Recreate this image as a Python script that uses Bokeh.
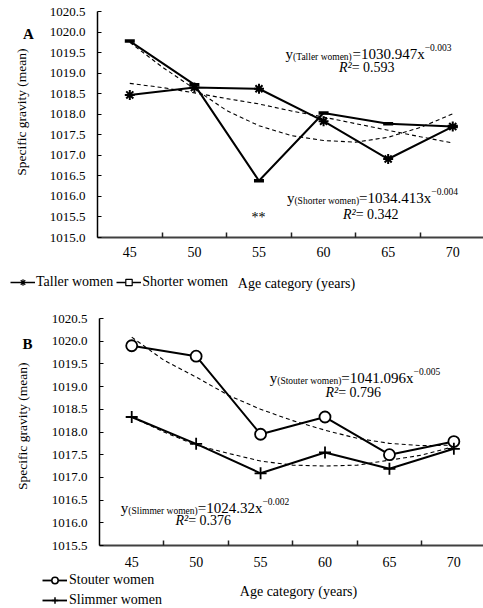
import math
from bokeh.plotting import figure
from bokeh.models import Range1d, FixedTicker, Label, Legend, LegendItem, NumeralTickFormatter
from bokeh.layouts import column, row
from bokeh.embed import file_html
from bokeh.resources import INLINE

# ---------------- data ----------------
ages = [45, 50, 55, 60, 65, 70]
boundaries = [47.5, 52.5, 57.5, 62.5, 67.5]

taller = [1018.47, 1018.65, 1018.62, 1017.83, 1016.91, 1017.70]
shorter = [1019.78, 1018.72, 1016.38, 1018.03, 1017.77, 1017.70]
stouter = [1019.90, 1019.67, 1017.95, 1018.33, 1017.50, 1017.79]
slimmer = [1018.33, 1017.74, 1017.09, 1017.55, 1017.19, 1017.63]

trend_ages = [45, 47.5, 50, 52.5, 55, 57.5, 60, 62.5, 65, 67.5, 70]
taller_trend = [1018.75, 1018.65, 1018.52, 1018.38, 1018.25, 1018.08, 1017.93, 1017.77, 1017.61, 1017.45, 1017.30]
shorter_trend = [1019.75, 1019.15, 1018.62, 1018.09, 1017.72, 1017.48, 1017.36, 1017.32, 1017.44, 1017.68, 1018.01]
stouter_trend = [1020.09, 1019.58, 1019.21, 1018.81, 1018.50, 1018.25, 1018.04, 1017.86, 1017.75, 1017.70, 1017.71]
slimmer_trend = [1018.33, 1018.00, 1017.71, 1017.53, 1017.36, 1017.27, 1017.25, 1017.27, 1017.38, 1017.49, 1017.68]

y_ticks_a = [1015.0, 1015.5, 1016.0, 1016.5, 1017.0, 1017.5, 1018.0, 1018.5, 1019.0, 1019.5, 1020.0, 1020.5]
y_ticks_b = [1015.5, 1016.0, 1016.5, 1017.0, 1017.5, 1018.0, 1018.5, 1019.0, 1019.5, 1020.0, 1020.5]

eq_taller = ("Taller women", "1030.947", "0.003", "0.593")
eq_shorter = ("Shorter women", "1034.413", "0.004", "0.342")
eq_stouter = ("Stouter women", "1041.096", "0.005", "0.796")
eq_slimmer = ("Slimmer women", "1024.32", "0.002", "0.376")

x_title = "Age category (years)"
y_title = "Specific gravity (mean)"

FONT = "'Liberation Serif', 'Times New Roman', 'DejaVu Serif', serif"

# Times metrics (per 1000 em) for laying out the multi-size equation runs
W = {' ': 250, '(': 333, ')': 333, '.': 250, '=': 564, '\u2212': 564, '\u00b2': 300,
     'a': 444, 'c': 444, 'e': 444, 'h': 500, 'i': 278, 'l': 278, 'm': 778, 'n': 500,
     'o': 500, 'r': 333, 't': 278, 'u': 500, 'w': 722, 'x': 500, 'y': 500, 'S': 556,
     'T': 611, 'R': 611, 's': 389, '*': 500}


def tw(s, size):
    return sum(W.get(c, 500) for c in s) / 1000.0 * size


def add_label(p, x, y, text, size, dx=0, dy=0, align="left", baseline="alphabetic",
              style="normal", angle=0.0):
    p.add_layout(Label(x=x, y=y, x_offset=dx, y_offset=dy, text=text, text_font=FONT,
                       text_font_size=f"{size}px", text_align=align, text_baseline=baseline,
                       text_color="black", text_font_style=style, angle=angle))


def strip(width, height):
    s = figure(width=width, height=height, x_range=Range1d(0, width), y_range=Range1d(0, height),
               output_backend="svg", toolbar_location=None, x_axis_type=None, y_axis_type=None,
               min_border=0, min_border_left=0, min_border_right=0, min_border_top=0,
               min_border_bottom=0)
    s.outline_line_color = None
    s.grid.visible = False
    return s


def make_fig(width, height, top, frame_h, left, xr, yr, yticks):
    p = figure(width=width, height=height, x_range=Range1d(*xr), y_range=Range1d(*yr),
               output_backend="svg", toolbar_location=None,
               min_border_left=left, min_border_right=0, min_border_top=top,
               min_border_bottom=height - top - frame_h)
    p.outline_line_color = None
    p.grid.visible = False
    xa = p.xaxis[0]
    xa.ticker = FixedTicker(ticks=ages, minor_ticks=boundaries)
    xa.major_tick_in = 0
    xa.major_tick_out = 0
    xa.minor_tick_in = 5
    xa.minor_tick_out = 0
    xa.minor_tick_line_color = "#222222"
    xa.minor_tick_line_width = 1.5
    xa.axis_line_color = "#404040"
    xa.axis_line_width = 2
    xa.major_label_text_font = FONT
    xa.major_label_text_font_size = "14px"
    xa.major_label_text_color = "black"
    ya = p.yaxis[0]
    ya.ticker = FixedTicker(ticks=yticks)
    ya.formatter = NumeralTickFormatter(format="0.0")
    ya.major_tick_in = 4
    ya.major_tick_out = 0
    ya.minor_tick_line_color = None
    ya.axis_line_color = "black"
    ya.axis_line_width = 1.5
    ya.major_label_standoff = 12
    ya.major_label_text_font = FONT
    ya.major_label_text_font_size = "13px"
    ya.major_label_text_color = "black"
    return p


def equation(p, x, y, eq, r2_drop):
    subject, coef, expo, r2 = eq
    runs = [("y", 15, 0), ("(" + subject + ")", 9.5, -3.5), ("=" + coef + "x", 15, 0),
            ("\u2212" + expo, 9.5, 6)]
    total = sum(tw(t, s) for t, s, _ in runs)
    off = -total / 2
    for t, s, d in runs:
        add_label(p, x, y, t, s, dx=off, dy=d)
        off += tw(t, s)
    r_runs = [("R\u00b2", 14, "italic"), (" = " + r2, 14, "normal")]
    total = sum(tw(t, s) for t, s, _ in r_runs)
    off = -total / 2
    for t, s, st in r_runs:
        add_label(p, x, y, t, s, dx=off, dy=-r2_drop, style=st)
        off += tw(t, s)


def style_legend(leg, standoff, spacing):
    leg.label_text_font = FONT
    leg.label_text_font_size = "14px"
    leg.label_text_color = "black"
    leg.glyph_width = 25
    leg.glyph_height = 16
    leg.label_height = 16
    leg.label_standoff = standoff
    leg.spacing = spacing
    leg.padding = 0
    leg.margin = 0
    leg.border_line_color = None
    leg.background_fill_alpha = 0


STRIP_W = 40

# ---------------- panel A ----------------
A_LEFT, A_TOP, A_H, A_HEIGHT = 97, 11, 226, 265
XA = (42.5, 72.38)
YA = (1015.0, 1020.5)
pa = make_fig(483 - STRIP_W, A_HEIGHT, A_TOP, A_H, A_LEFT - STRIP_W, XA, YA, y_ticks_a)
pa.xaxis[0].major_label_standoff = 9

sxa = (483 - A_LEFT) / (XA[1] - XA[0])
sya = A_H / (YA[1] - YA[0])


def pxA(px, py):
    return XA[0] + (px - A_LEFT) / sxa, YA[1] - (py - A_TOP) / sya


pa.line(trend_ages, taller_trend, line_color="black", line_width=1.1, line_dash="4 3")
pa.line(trend_ages, shorter_trend, line_color="black", line_width=1.1, line_dash="4 3")
pa.line(ages, taller, line_color="black", line_width=2)
pa.line(ages, shorter, line_color="black", line_width=2)
pa.scatter(ages, taller, marker="asterisk", size=10, line_color="black", line_width=2)
pa.scatter(ages, shorter, marker="dash", size=10, line_color="black", line_width=3.5)

x, y = pxA(368, 53)
equation(pa, x, y, eq_taller, 14)
x, y = pxA(372, 197)
equation(pa, x, y, eq_shorter, 17)
x, y = pxA(258, 217)
add_label(pa, x, y, "**", 14, align="center")

# left strip A: panel letter + y title
la = strip(STRIP_W, A_HEIGHT)
add_label(la, 28, A_HEIGHT - 26, "A", 15, align="center", baseline="middle", style="bold")
add_label(la, 21, A_HEIGHT - 118, y_title, 13.5, align="center", baseline="middle",
          angle=math.pi / 2)

# bottom strip A: legend + x title
BA_H = 31
ba = strip(483, BA_H)
lt = ba.line(ages, taller, line_color="black", line_width=1.5)
st = ba.scatter(ages, taller, marker="asterisk", size=10, line_color="black", line_width=1.2)
ls = ba.line(ages, shorter, line_color="black", line_width=1.5)
ss = ba.scatter(ages, shorter, marker="square", size=[7], fill_color="white",
                line_color="black", line_width=1.2)
leg_a = Legend(items=[LegendItem(label="Taller women", renderers=[lt, st]),
                      LegendItem(label="Shorter women", renderers=[ls, ss])],
               orientation="horizontal", location=(10, 6))
style_legend(leg_a, 1, 3)
ba.add_layout(leg_a)
add_label(ba, 296, BA_H - (283 - A_HEIGHT), x_title, 14, align="center", baseline="middle")

# ---------------- panel B ----------------
B_PAGE = A_HEIGHT + BA_H
B_LEFT, B_TOP, B_H, B_HEIGHT = 99, 22, 227, 276
XB = (42.5, 72.3)
YB = (1015.5, 1020.5)
pb = make_fig(483 - STRIP_W, B_HEIGHT, B_TOP, B_H, B_LEFT - STRIP_W, XB, YB, y_ticks_b)
pb.xaxis[0].major_label_standoff = 11

sxb = (483 - B_LEFT) / (XB[1] - XB[0])
syb = B_H / (YB[1] - YB[0])


def pxB(px, py):
    return XB[0] + (px - B_LEFT) / sxb, YB[1] - (py - B_PAGE - B_TOP) / syb


pb.line(trend_ages, stouter_trend, line_color="black", line_width=1.1, line_dash="4 3")
pb.line(trend_ages, slimmer_trend, line_color="black", line_width=1.1, line_dash="4 3")
pb.line(ages, stouter, line_color="black", line_width=2)
pb.line(ages, slimmer, line_color="black", line_width=2)
pb.scatter(ages, stouter, marker="circle", size=11, fill_color="white", line_color="black", line_width=1.8)
pb.scatter(ages, slimmer, marker="cross", size=12, line_color="black", line_width=1.8)

x, y = pxB(354.5, 377)
equation(pb, x, y, eq_stouter, 15)
x, y = pxB(204.5, 507)
equation(pb, x, y, eq_slimmer, 13)

lb = strip(STRIP_W, B_HEIGHT)
add_label(lb, 27, B_HEIGHT - (327 - B_PAGE), "B", 15, align="center", baseline="middle", style="bold")
add_label(lb, 22, B_HEIGHT - (427 - B_PAGE), y_title, 13.5, align="center", baseline="middle",
          angle=math.pi / 2)

BB_H = 608 - B_PAGE - B_HEIGHT
bb = strip(483, BB_H)
lo = bb.line(ages, stouter, line_color="black", line_width=1.8)
so = bb.scatter(ages, stouter, marker="circle", size=10, fill_color="white", line_color="black", line_width=1.5)
li = bb.line(ages, slimmer, line_color="black", line_width=1.8)
si = bb.scatter(ages, slimmer, marker="cross", size=11, line_color="black", line_width=1.5)
leg_b = Legend(items=[LegendItem(label="Stouter women", renderers=[lo, so]),
                      LegendItem(label="Slimmer women", renderers=[li, si])],
               orientation="vertical", location=(42, 0))
style_legend(leg_b, 2, 4)
bb.add_layout(leg_b)
add_label(bb, 298, BB_H - (591 - B_PAGE - B_HEIGHT), x_title, 14, align="center", baseline="middle")

layout = column(row(la, pa, spacing=0), ba, row(lb, pb, spacing=0), bb, spacing=0)
open("out.html", "w").write(file_html(layout, INLINE))
